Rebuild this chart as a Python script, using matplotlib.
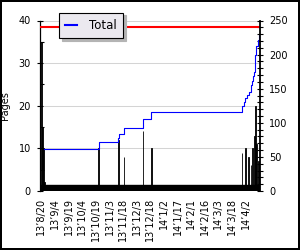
import matplotlib
matplotlib.use("Agg")
from matplotlib import pyplot as plt
import pandas as pd

# pages written per day (black bars, left axis)
bar_dates = ['2013-08-20', '2013-08-21', '2013-08-22', '2013-08-23',
             '2013-10-22', '2013-11-13', '2013-11-19', '2013-12-10', '2013-12-19',
             '2014-03-29', '2014-04-02', '2014-04-05', '2014-04-08', '2014-04-10',
             '2014-04-12', '2014-04-13', '2014-04-14', '2014-04-16', '2014-04-17']
bar_pages = [35, 15, 10, 2,
             10, 12, 8, 14, 10,
             9, 10, 8, 6, 10,
             13, 20, 11, 7, 4]

# running total (blue step line, right axis)
total_dates = ['2013-08-23', '2013-10-22', '2013-10-23', '2013-11-12', '2013-11-14',
               '2013-11-19', '2013-12-10', '2013-12-19', '2014-03-29', '2014-03-31',
               '2014-04-02', '2014-04-04', '2014-04-06', '2014-04-08', '2014-04-09',
               '2014-04-10', '2014-04-11', '2014-04-12', '2014-04-14', '2014-04-16',
               '2014-04-17', '2014-04-18']
total_pages = [61, 67, 72, 77, 83,
               92, 106, 116, 124, 130,
               137, 141, 145, 155, 161,
               168, 175, 200, 212, 222,
               229, 229]

target = 240
tick_dates = ['2013-08-20', '2013-09-04', '2013-09-19', '2013-10-04', '2013-10-19',
              '2013-11-03', '2013-11-18', '2013-12-03', '2013-12-18', '2014-01-02',
              '2014-01-17', '2014-02-01', '2014-02-16', '2014-03-03', '2014-03-18',
              '2014-04-02']

bar_dates = pd.to_datetime(bar_dates)
total_dates = pd.to_datetime(total_dates)
tick_dates = pd.to_datetime(tick_dates)
tick_labels = [f"{d.year % 100}\u2019{d.month}/{d.day}" for d in tick_dates]

plt.rcParams['font.family'] = 'DejaVu Sans'
plt.rcParams['font.size'] = 7

fig = plt.figure(figsize=(3, 2.5), dpi=100)
fig.patch.set_facecolor('white')
fig.patch.set_edgecolor('black')
fig.patch.set_linewidth(1.5)

ax = fig.add_axes([40 / 300, 59 / 250, 220 / 300, 170.5 / 250])
ax.set_facecolor('white')

start = pd.Timestamp('2013-08-20')
ax.set_xlim(start - pd.Timedelta(days=1.6), start + pd.Timedelta(days=241))
ax.set_ylim(0, 40)

ax.set_yticks([0, 10, 20, 30, 40])
ax.set_yticks([5, 15, 25, 35], minor=True)
ax.yaxis.grid(True, which='major', color='#d4d4d4', lw=0.75)
ax.set_axisbelow(True)
ax.tick_params(axis='y', which='major', direction='inout', length=5, width=0.8, pad=4)
ax.tick_params(axis='y', which='minor', direction='in', length=3, width=0.8)

ax.bar(bar_dates, bar_pages, width=0.8, color='black', edgecolor='black',
       linewidth=0.6, zorder=2)
ax.axhspan(0, 1.4, color='black', zorder=2)

ax.set_xticks(tick_dates)
ax.set_xticklabels(tick_labels, rotation=90)
ax.tick_params(axis='x', length=0, pad=5)

ax.set_ylabel('Pages', labelpad=6)
ax.spines['top'].set_visible(False)
ax.spines['right'].set_visible(False)
ax.spines['bottom'].set_visible(False)
ax.spines['left'].set_linewidth(0.9)

ax2 = ax.twinx()
ax2.set_ylim(0, 250)
ax2.set_yticks([0, 50, 100, 150, 200, 250])
ax2.set_yticks(range(10, 250, 10), minor=True)
ax2.tick_params(axis='y', which='both', direction='inout', length=5, width=0.8, pad=4)
for s in ['top', 'left', 'bottom']:
    ax2.spines[s].set_visible(False)
ax2.spines['right'].set_linewidth(1.3)

ax2.axhline(target, color='red', lw=1.5)
ax2.step(total_dates, total_pages, where='post', color='blue', lw=0.8, label='Total')

leg = ax2.legend(loc='upper left', bbox_to_anchor=(59 / 300, 1 - 12.5 / 250),
                 bbox_transform=fig.transFigure, borderaxespad=0, fontsize=8.5,
                 handlelength=1.0, handletextpad=1.0, borderpad=0.55,
                 fancybox=False, framealpha=1,
                 shadow={'color': '#b4b4b4', 'alpha': 1})
leg.get_frame().set_facecolor('#ebe9ef')
leg.get_frame().set_edgecolor('black')
leg.get_frame().set_linewidth(0.8)
for h in leg.legend_handles:
    h.set_linewidth(1.5)

fig.savefig('out.png', dpi=100, facecolor=fig.get_facecolor(), edgecolor=fig.get_edgecolor())
